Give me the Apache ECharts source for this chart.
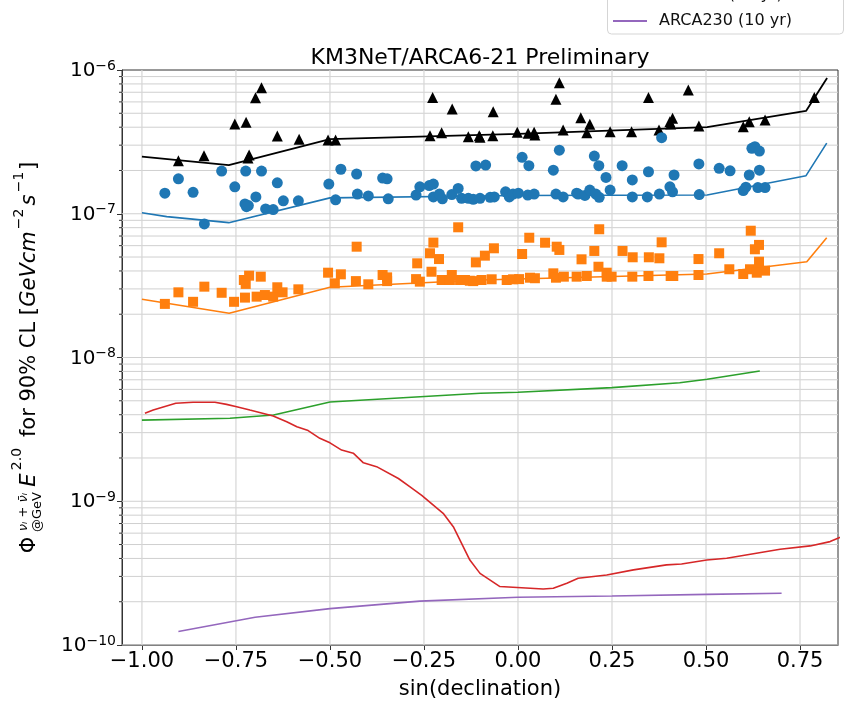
<!DOCTYPE html>
<html>
<head>
<meta charset="utf-8">
<title>KM3NeT/ARCA6-21 Preliminary</title>
<script src="https://cdn.jsdelivr.net/npm/echarts@6.0.0/dist/echarts.min.js"></script>
<style>
  html, body { margin: 0; padding: 0; background: #fff; }
  #chart { width: 846px; height: 706px; }
</style>
</head>
<body>
<div id="chart"></div>
<script>
// ticks
var xTicks = [-1.0, -0.75, -0.5, -0.25, 0.0, 0.25, 0.5, 0.75];

// sensitivity curves (black / blue / orange)
var blackLineX = [-1.0, -0.769, -0.5, 0.0, 0.503, 0.766, 0.822];
var blackLineY = [2.5e-7, 2.18e-7, 3.31e-7, 3.59e-7, 4.0e-7, 5.19e-7, 8.8e-7];
var blueLineX = [-1.0, -0.934, -0.769, -0.5, 0.0, 0.503, 0.766, 0.821];
var blueLineY = [1.016e-7, 9.55e-8, 8.67e-8, 1.29e-7, 1.34e-7, 1.35e-7, 1.84e-7, 3.1e-7];
var orangeLineX = [-1.0, -0.768, -0.5, -0.1, 0.502, 0.768, 0.821];
var orangeLineY = [2.54e-8, 2.03e-8, 3.08e-8, 3.46e-8, 3.81e-8, 4.64e-8, 6.81e-8];

// upper limits (markers)
var triangles = [
  [-0.903, 2.34e-7], [-0.835, 2.53e-7], [-0.753, 4.21e-7], [-0.723, 4.33e-7], [-0.715, 2.56e-7],
  [-0.718, 2.44e-7], [-0.698, 6.42e-7], [-0.682, 7.53e-7], [-0.640, 3.47e-7], [-0.582, 3.30e-7],
  [-0.505, 3.26e-7], [-0.485, 3.26e-7], [-0.227, 6.45e-7], [-0.234, 3.49e-7], [-0.203, 3.66e-7],
  [-0.175, 5.35e-7], [-0.132, 3.43e-7], [-0.103, 3.49e-7], [-0.101, 3.40e-7], [-0.067, 3.49e-7],
  [-0.066, 5.13e-7], [-0.002, 3.69e-7], [0.027, 3.63e-7], [0.043, 3.69e-7], [0.045, 3.53e-7],
  [0.101, 6.25e-7], [0.110, 8.16e-7], [0.120, 3.83e-7], [0.167, 4.66e-7], [0.183, 3.66e-7],
  [0.191, 4.19e-7], [0.245, 3.72e-7], [0.302, 3.72e-7], [0.347, 6.45e-7], [0.375, 3.83e-7],
  [0.404, 4.37e-7], [0.411, 4.61e-7], [0.406, 4.21e-7], [0.453, 7.26e-7], [0.481, 4.08e-7],
  [0.599, 4.03e-7], [0.615, 4.37e-7], [0.657, 4.49e-7], [0.788, 6.45e-7]
];
var circles = [
  [-0.939, 1.39e-7], [-0.903, 1.75e-7], [-0.864, 1.41e-7], [-0.834, 8.49e-8], [-0.788, 1.98e-7],
  [-0.753, 1.54e-7], [-0.724, 1.98e-7], [-0.682, 1.98e-7], [-0.726, 1.17e-7], [-0.717, 1.14e-7],
  [-0.722, 1.12e-7], [-0.697, 1.31e-7], [-0.671, 1.08e-7], [-0.651, 1.07e-7], [-0.640, 1.64e-7],
  [-0.624, 1.23e-7], [-0.584, 1.23e-7], [-0.503, 1.61e-7], [-0.471, 2.04e-7], [-0.485, 1.25e-7],
  [-0.429, 1.89e-7], [-0.427, 1.37e-7], [-0.398, 1.33e-7], [-0.360, 1.77e-7], [-0.348, 1.75e-7],
  [-0.345, 1.27e-7], [-0.271, 1.35e-7], [-0.261, 1.54e-7], [-0.236, 1.57e-7], [-0.225, 1.61e-7],
  [-0.225, 1.31e-7], [-0.209, 1.37e-7], [-0.201, 1.27e-7], [-0.176, 1.36e-7], [-0.159, 1.50e-7],
  [-0.150, 1.28e-7], [-0.132, 1.28e-7], [-0.119, 1.26e-7], [-0.112, 2.15e-7], [-0.101, 1.28e-7],
  [-0.086, 2.18e-7], [-0.074, 1.30e-7], [-0.063, 1.31e-7], [-0.033, 1.42e-7], [-0.023, 1.31e-7],
  [-0.013, 1.37e-7], [0.001, 1.39e-7], [0.011, 2.47e-7], [0.026, 1.35e-7], [0.029, 2.16e-7],
  [0.043, 1.37e-7], [0.094, 2.01e-7], [0.101, 1.37e-7], [0.110, 2.77e-7], [0.120, 1.31e-7],
  [0.156, 1.39e-7], [0.160, 1.37e-7], [0.178, 1.34e-7], [0.191, 1.46e-7], [0.203, 2.52e-7],
  [0.207, 1.37e-7], [0.215, 2.16e-7], [0.216, 1.30e-7], [0.234, 1.79e-7], [0.245, 1.46e-7],
  [0.277, 2.16e-7], [0.304, 1.72e-7], [0.304, 1.31e-7], [0.344, 1.31e-7], [0.347, 1.96e-7],
  [0.376, 1.37e-7], [0.382, 3.38e-7], [0.404, 1.54e-7], [0.411, 1.42e-7], [0.415, 1.86e-7],
  [0.481, 2.22e-7], [0.482, 1.36e-7], [0.535, 2.07e-7], [0.564, 1.99e-7], [0.599, 1.45e-7],
  [0.606, 1.53e-7], [0.615, 1.86e-7], [0.622, 2.85e-7], [0.630, 2.93e-7], [0.642, 2.73e-7],
  [0.642, 2.01e-7], [0.638, 1.52e-7], [0.657, 1.52e-7]
];
var squares = [
  [-0.939, 2.36e-8], [-0.903, 2.84e-8], [-0.864, 2.44e-8], [-0.834, 3.11e-8], [-0.788, 2.82e-8],
  [-0.755, 2.44e-8], [-0.726, 2.61e-8], [-0.729, 3.46e-8], [-0.724, 3.25e-8], [-0.715, 3.71e-8],
  [-0.684, 3.65e-8], [-0.695, 2.65e-8], [-0.673, 2.72e-8], [-0.651, 2.65e-8], [-0.640, 3.08e-8],
  [-0.626, 2.84e-8], [-0.584, 2.98e-8], [-0.505, 3.89e-8], [-0.487, 3.28e-8], [-0.471, 3.79e-8],
  [-0.431, 3.40e-8], [-0.429, 5.90e-8], [-0.398, 3.23e-8], [-0.360, 3.75e-8], [-0.348, 3.61e-8],
  [-0.348, 3.40e-8], [-0.271, 3.51e-8], [-0.268, 4.52e-8], [-0.261, 3.37e-8], [-0.230, 3.95e-8],
  [-0.234, 5.31e-8], [-0.225, 6.30e-8], [-0.210, 4.84e-8], [-0.203, 3.46e-8], [-0.176, 3.75e-8],
  [-0.181, 3.46e-8], [-0.159, 8.05e-8], [-0.154, 3.46e-8], [-0.128, 3.42e-8], [-0.112, 4.59e-8],
  [-0.088, 5.11e-8], [-0.064, 5.75e-8], [-0.141, 3.46e-8], [-0.119, 3.40e-8], [-0.097, 3.46e-8],
  [-0.070, 3.50e-8], [-0.030, 3.46e-8], [-0.013, 3.50e-8], [0.003, 3.51e-8], [0.011, 5.25e-8],
  [0.030, 6.81e-8], [0.032, 3.59e-8], [0.045, 3.56e-8], [0.072, 6.29e-8], [0.094, 3.85e-8],
  [0.101, 3.59e-8], [0.103, 5.90e-8], [0.110, 5.60e-8], [0.122, 3.65e-8], [0.156, 3.65e-8],
  [0.169, 4.82e-8], [0.183, 3.69e-8], [0.203, 5.51e-8], [0.216, 7.80e-8], [0.214, 4.28e-8],
  [0.236, 3.89e-8], [0.236, 3.65e-8], [0.249, 3.65e-8], [0.278, 5.51e-8], [0.305, 4.98e-8],
  [0.304, 3.65e-8], [0.347, 3.69e-8], [0.348, 4.98e-8], [0.376, 4.90e-8], [0.382, 6.33e-8],
  [0.406, 3.69e-8], [0.413, 3.69e-8], [0.480, 4.84e-8], [0.480, 3.75e-8], [0.535, 5.31e-8],
  [0.562, 4.11e-8], [0.599, 3.81e-8], [0.617, 4.11e-8], [0.619, 7.62e-8], [0.630, 5.66e-8],
  [0.641, 6.07e-8], [0.641, 4.64e-8], [0.639, 4.06e-8], [0.657, 4.02e-8], [0.635, 3.89e-8]
];

// other experiments
var greenX = [-1.0, -0.766, -0.65, -0.5, -0.1, 0.0, 0.25, 0.43, 0.503, 0.643];
var greenY = [3.67e-9, 3.78e-9, 3.98e-9, 4.9e-9, 5.64e-9, 5.73e-9, 6.17e-9, 6.68e-9, 7.05e-9, 8.06e-9];
var redX = [-0.992, -0.970, -0.910, -0.864, -0.806, -0.775, -0.748, -0.713, -0.651, -0.615,
  -0.588, -0.558, -0.527, -0.5, -0.469, -0.438, -0.411, -0.376, -0.318, -0.287,
  -0.256, -0.199, -0.172, -0.128, -0.101, -0.048, 0.067, 0.094, 0.130, 0.160,
  0.236, 0.307, 0.395, 0.435, 0.502, 0.555, 0.697, 0.777, 0.830, 0.872];
var redY = [4.09e-9, 4.31e-9, 4.80e-9, 4.88e-9, 4.88e-9, 4.72e-9, 4.55e-9, 4.31e-9, 3.92e-9, 3.57e-9,
  3.30e-9, 3.10e-9, 2.74e-9, 2.55e-9, 2.27e-9, 2.16e-9, 1.85e-9, 1.74e-9, 1.44e-9, 1.26e-9,
  1.10e-9, 8.24e-10, 6.65e-10, 3.90e-10, 3.15e-10, 2.55e-10, 2.45e-10, 2.48e-10, 2.69e-10, 2.91e-10,
  3.07e-10, 3.33e-10, 3.61e-10, 3.66e-10, 3.90e-10, 4.01e-10, 4.63e-10, 4.89e-10, 5.24e-10, 5.82e-10];
var purpleX = [-0.903, -0.699, -0.5, -0.261, 0.0, 0.25, 0.502, 0.701];
var purpleY = [1.24e-10, 1.56e-10, 1.79e-10, 2.02e-10, 2.15e-10, 2.19e-10, 2.25e-10, 2.29e-10];

function pairs(xs, ys) {
    return xs.map(function (x, i) { return [x, ys[i]]; });
}

// log grid values (major + minor, matplotlib style)
var yGrid = [];
for (var e = -10; e < -6; e++) {
    for (var m = 1; m <= 9; m++) {
        yGrid.push([0, m * Math.pow(10, e)]);
    }
}
var xGrid = xTicks.map(function (v) { return [v, 1e-8]; });

var FONT = 'DejaVu Sans';

// y axis title pieces, rotated
var yTitle = [
    { t: 'Φ', x: 30, y: 545, s: 21, it: false },
    { t: 'νᵢ + ν̄ᵢ', x: 24, y: 512, s: 13, it: true },
    { t: '@GeV', x: 38, y: 512, s: 13, it: false },
    { t: 'E', x: 30, y: 480, s: 21, it: true },
    { t: '2.0', x: 17.5, y: 459, s: 14, it: false },
    { t: 'for 90% CL [', x: 30, y: 372, s: 21, it: false },
    { t: 'GeVcm', x: 30, y: 269, s: 21, it: true },
    { t: '−2', x: 19, y: 219, s: 14, it: false },
    { t: 's', x: 30, y: 200, s: 21, it: true },
    { t: '−1', x: 19, y: 182, s: 14, it: false },
    { t: ']', x: 30, y: 166, s: 21, it: false }
];

function hLine(params, api) {
    var cs = params.coordSys;
    var p = api.coord([0, api.value(1)]);
    var isMajor = Math.abs(Math.log10(api.value(1)) % 1) < 1e-6;
    var lines = [{
        type: 'line',
        shape: { x1: cs.x, y1: p[1], x2: cs.x + cs.width, y2: p[1] },
        style: { stroke: '#d0d0d0', lineWidth: 1 }
    }];
    if (!isMajor) {
        // minor tick outside the left spine
        lines.push({
            type: 'line',
            shape: { x1: cs.x - 3, y1: p[1], x2: cs.x, y2: p[1] },
            style: { stroke: '#333', lineWidth: 1 }
        });
    }
    return { type: 'group', children: lines };
}

function vLine(params, api) {
    var cs = params.coordSys;
    var p = api.coord([api.value(0), 1e-8]);
    return {
        type: 'line',
        shape: { x1: p[0], y1: cs.y, x2: p[0], y2: cs.y + cs.height },
        style: { stroke: '#d6d6d6', lineWidth: 1.2 }
    };
}

var chart = echarts.init(document.getElementById('chart'));
var option = {
    animation: false,
    backgroundColor: '#fff',
    textStyle: { fontFamily: FONT },
    title: {
        text: 'KM3NeT/ARCA6-21 Preliminary',
        left: 480,
        textAlign: 'center',
        top: 47,
        padding: 0,
        textStyle: { fontFamily: FONT, fontSize: 22, fontWeight: 'normal', color: '#000', lineHeight: 22 }
    },
    legend: {
        orient: 'vertical',
        left: 607,
        top: -14,
        padding: [0, 0, 0, 6],
        itemGap: 8,
        itemWidth: 34,
        itemHeight: 2,
        icon: 'rect',
        textStyle: { fontFamily: FONT, fontSize: 16, color: '#111', lineHeight: 18, padding: [0, 0, 0, 7] },
        data: ['IceCube (10 yr)', 'ARCA230 (10 yr)']
    },
    graphic: [
        {
            type: 'rect', z: 0,
            shape: { x: 607.5, y: -10, width: 236, height: 44, r: 4 },
            style: { fill: '#fff', stroke: '#d5d5d5', lineWidth: 1 }
        }
    ].concat(yTitle.map(function (p) {
        return {
            type: 'text',
            x: p.x, y: p.y,
            rotation: Math.PI / 2,
            style: {
                text: p.t,
                font: (p.it ? 'italic ' : '') + p.s + 'px "' + FONT + '"',
                fill: '#000',
                align: 'center', verticalAlign: 'middle',
                textAlign: 'center', textVerticalAlign: 'middle'
            }
        };
    })),
    grid: {
        left: 122, right: 8, top: 70, bottom: 61,
        show: true, borderColor: '#333', borderWidth: 1
    },
    xAxis: {
        type: 'value',
        min: -1.053,
        max: 0.851,
        name: 'sin(declination)',
        nameLocation: 'middle',
        nameGap: 34,
        nameTextStyle: { fontFamily: FONT, fontSize: 21, color: '#000' },
        axisLine: { show: true, onZero: false, lineStyle: { color: '#333' } },
        axisTick: { show: true, length: 5, customValues: xTicks, lineStyle: { color: '#333' } },
        axisLabel: {
            customValues: xTicks,
            margin: 6,
            fontSize: 21,
            color: '#000',
            formatter: function (v) {
                return (v < 0 ? '−' : '') + Math.abs(v).toFixed(2);
            }
        },
        splitLine: { show: false }
    },
    yAxis: {
        type: 'log',
        logBase: 10,
        min: 1e-10,
        max: 1e-6,
        axisLine: { show: true, onZero: false, lineStyle: { color: '#333' } },
        axisTick: { show: true, length: 5, lineStyle: { color: '#333' } },
        axisLabel: {
            margin: 6,
            color: '#000',
            formatter: function (v) {
                var e = Math.round(Math.log10(v));
                return '{b|10}{s|−' + Math.abs(e) + '}';
            },
            rich: {
                b: { fontFamily: FONT, fontSize: 20, lineHeight: 22, verticalAlign: 'bottom', color: '#000' },
                s: { fontFamily: FONT, fontSize: 14, lineHeight: 14, verticalAlign: 'top', color: '#000' }
            }
        },
        splitLine: { show: false }
    },
    series: [
        {
            name: 'hgrid', type: 'custom', data: yGrid, silent: true, z: 1, clip: false,
            renderItem: hLine
        },
        {
            name: 'vgrid', type: 'custom', data: xGrid, silent: true, z: 1,
            renderItem: vLine
        },
        {
            name: 'ARCA6-21 UL (black)', type: 'line', data: pairs(blackLineX, blackLineY),
            showSymbol: false, symbol: 'none', z: 3,
            lineStyle: { color: '#000', width: 1.8 }, itemStyle: { color: '#000' }
        },
        {
            name: 'ARCA6-21 (blue)', type: 'line', data: pairs(blueLineX, blueLineY),
            showSymbol: false, symbol: 'none', z: 3,
            lineStyle: { color: '#1f77b4', width: 1.6 }, itemStyle: { color: '#1f77b4' }
        },
        {
            name: 'ARCA6-21 (orange)', type: 'line', data: pairs(orangeLineX, orangeLineY),
            showSymbol: false, symbol: 'none', z: 3,
            lineStyle: { color: '#ff7f0e', width: 1.6 }, itemStyle: { color: '#ff7f0e' }
        },
        {
            name: 'IceCube (10 yr)', type: 'line', data: pairs(greenX, greenY),
            showSymbol: false, symbol: 'none', z: 3,
            lineStyle: { color: '#2ca02c', width: 1.6 }, itemStyle: { color: '#2ca02c' }
        },
        {
            name: 'ANTARES', type: 'line', data: pairs(redX, redY),
            showSymbol: false, symbol: 'none', z: 3,
            lineStyle: { color: '#d62728', width: 1.6 }, itemStyle: { color: '#d62728' }
        },
        {
            name: 'ARCA230 (10 yr)', type: 'line', data: pairs(purpleX, purpleY),
            showSymbol: false, symbol: 'none', z: 3,
            lineStyle: { color: '#9467bd', width: 1.6 }, itemStyle: { color: '#9467bd' }
        },
        {
            name: 'triangles', type: 'scatter', data: triangles, z: 4,
            symbol: 'triangle', symbolSize: 11, itemStyle: { color: '#000', opacity: 1 }
        },
        {
            name: 'circles', type: 'scatter', data: circles, z: 4,
            symbol: 'circle', symbolSize: 11, itemStyle: { color: '#1f77b4', opacity: 1 }
        },
        {
            name: 'squares', type: 'scatter', data: squares, z: 4,
            symbol: 'rect', symbolSize: 10, itemStyle: { color: '#ff7f0e', opacity: 1 }
        }
    ]
};
chart.setOption(option);
</script>
</body>
</html>
